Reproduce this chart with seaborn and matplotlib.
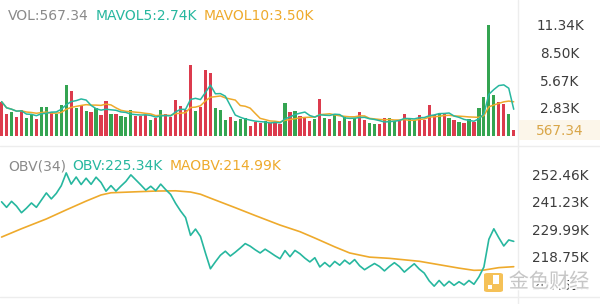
import matplotlib
matplotlib.use("Agg")
import matplotlib.pyplot as plt
import matplotlib.patheffects as pe
import pandas as pd
import seaborn as sns
from matplotlib.lines import Line2D
from matplotlib.patches import Rectangle, FancyBboxPatch, Circle
from matplotlib.transforms import blended_transform_factory, offset_copy

# ---- data -----------------------------------------------------------------
# traded volume per bar, in thousands
volume = [
    3.52, 2.26, 2.46, 1.95, 2.70, 1.85, 2.13, 1.78, 2.94, 2.94,
    2.43, 2.23, 3.15, 5.24, 4.59, 2.91, 3.08, 2.60, 2.50, 2.91,
    2.16, 3.56, 2.29, 2.26, 2.05, 1.92, 2.67, 2.05, 2.05, 2.16,
    1.61, 1.81, 2.67, 2.23, 1.98, 3.66, 3.11, 2.67, 7.29, 2.57,
    3.01, 6.78, 6.43, 2.84, 2.67, 1.67, 1.98, 1.57, 1.71, 1.81,
    1.06, 1.47, 1.30, 1.54, 1.30, 1.37, 1.23, 3.33, 2.50, 2.57,
    2.05, 1.81, 1.54, 1.71, 3.77, 1.81, 1.71, 2.16, 1.54, 2.05,
    1.57, 1.81, 2.50, 1.64, 1.30, 1.23, 1.20, 1.81, 1.81, 1.54,
    1.57, 2.26, 1.75, 1.64, 2.16, 1.64, 3.18, 2.16, 2.33, 2.23,
    1.88, 1.64, 1.47, 1.30, 1.70, 1.45, 2.90, 3.95, 11.34, 4.15,
    3.50, 3.25, 2.23, 0.56734,
]
# candle direction per bar: u = close up, d = close down
direction_code = (
    "ddudduuduu" "duuudududu" "dduduuuddd" "ududdddddu" "ddduuuduuu"
    "dddudddudu" "dddudududu" "dudduudduu" "dduuddddud" "udududuuuu"
    "ddud"
)
# on-balance volume per bar, in thousands
obv = [
    241.50, 239.24, 241.70, 239.75, 237.05, 238.90, 241.03, 239.25, 242.19, 245.13,
    242.70, 244.93, 248.08, 253.32, 248.73, 251.64, 248.56, 251.16, 248.66, 251.57,
    249.41, 245.85, 248.14, 245.88, 247.93, 249.85, 252.52, 250.47, 248.42, 246.26,
    247.87, 246.06, 248.73, 246.50, 244.52, 240.86, 237.75, 235.08, 227.79, 230.36,
    227.35, 220.57, 214.14, 216.98, 219.65, 221.32, 219.34, 220.91, 222.62, 224.43,
    223.37, 221.90, 220.60, 222.14, 220.84, 219.47, 218.24, 221.57, 219.07, 221.64,
    220.29, 218.48, 216.94, 218.65, 214.88, 216.69, 214.98, 217.14, 215.60, 217.65,
    216.08, 217.89, 215.39, 213.75, 215.05, 216.28, 215.08, 213.27, 215.08, 216.62,
    215.05, 212.79, 214.54, 216.18, 214.01, 212.37, 209.19, 207.03, 209.36, 207.13,
    209.01, 207.37, 208.84, 207.54, 209.35, 207.81, 210.82, 214.85, 226.19, 230.47,
    226.81, 223.45, 225.91, 225.34,
]
# 34-bar moving average of OBV, sampled at these bar indices
maobv_bar = [0, 4, 9, 13, 17, 20, 22, 27, 31, 35, 38, 40, 42, 47, 51, 56,
             60, 63, 67, 70, 74, 78, 84, 88, 92, 95, 97, 100, 103]
maobv_val = [227.1, 230.5, 234.5, 238.2, 241.8, 244.3, 245.2, 245.6, 245.9, 246.0,
             245.5, 244.6, 243.0, 239.1, 235.9, 232.0, 229.3, 226.7, 223.1, 220.6,
             218.9, 218.4, 217.2, 215.8, 214.4, 213.5, 213.6, 214.6, 214.99]

vol_ticks = [2.835, 5.67, 8.505, 11.34]
vol_tick_labels = ["2.83K", "5.67K", "8.50K", "11.34K"]
obv_ticks = [207.51, 218.75, 229.99, 241.23, 252.46]
obv_tick_labels = ["207.51K", "218.75K", "229.99K", "241.23K", "252.46K"]

# ---- style ----------------------------------------------------------------
RED = "#dc3b4d"
GREEN = "#34a451"
TEAL = "#27b79f"
ORANGE = "#eeaa2c"
GREY = "#8a8a8a"
TICK = "#3d3d3d"
GOLD = "#d9a648"
RULE = "#ededed"

sns.set_theme(style="white")
plt.rcParams["font.family"] = ["DejaVu Sans", "Noto Sans CJK SC"]

W, H = 600, 304
fig = plt.figure(figsize=(W / 100, H / 100), dpi=100)
fig.patch.set_facecolor("white")


def fx(px):
    return px / W


def fy(px):
    return 1 - px / H


PLOT_R = 518
ax_v = fig.add_axes([0, fy(136), fx(PLOT_R), (136 - 18) / H])
ax_o = fig.add_axes([0, fy(296), fx(PLOT_R), (296 - 150) / H])

df = pd.DataFrame({
    "bar": range(len(volume)),
    "volume": volume,
    "direction": ["up" if c == "u" else "down" for c in direction_code],
})
df["mavol5"] = df["volume"].rolling(5, min_periods=1).mean()
df["mavol10"] = df["volume"].rolling(10, min_periods=1).mean()
df["obv"] = obv
ma_df = pd.DataFrame({"bar": maobv_bar, "maobv": maobv_val})

# ---- volume panel ---------------------------------------------------------
sns.barplot(data=df, x="bar", y="volume", hue="direction",
            palette={"up": GREEN, "down": RED}, dodge=False, width=0.64,
            saturation=1, errorbar=None, legend=False, linewidth=0, ax=ax_v)
sns.lineplot(data=df, x="bar", y="mavol10", color=ORANGE, lw=1.1, ax=ax_v)
sns.lineplot(data=df, x="bar", y="mavol5", color=TEAL, lw=1.1, ax=ax_v)
ax_v.set_xlim(-0.32, 103.86)
ax_v.set_ylim(0, 12.09)

# ---- OBV panel ------------------------------------------------------------
sns.lineplot(data=ma_df, x="bar", y="maobv", color=ORANGE, lw=1.2, ax=ax_o)
sns.lineplot(data=df, x="bar", y="obv", color=TEAL, lw=1.2, ax=ax_o)
ax_o.set_xlim(-0.32, 103.86)
ax_o.set_ylim(203.01, 262.68)

for ax in (ax_v, ax_o):
    ax.set_axis_off()

# ---- panel rules ----------------------------------------------------------
for y in (146.5, 296.5):
    fig.add_artist(Line2D([0, 1], [fy(y), fy(y)], color=RULE, lw=1,
                          transform=fig.transFigure))
fig.add_artist(Line2D([fx(PLOT_R), fx(PLOT_R)], [0, 1], color=RULE, lw=1,
                      transform=fig.transFigure))


# ---- right-hand value labels ---------------------------------------------
def right_labels(ax, values, labels, color=TICK, size=9.8):
    tr = blended_transform_factory(fig.transFigure, ax.transData)
    tr = offset_copy(tr, x=0, y=-5, units="dots")
    for v, s in zip(values, labels):
        fig.text(fx(560), v, s, transform=tr, ha="center", va="baseline",
                 color=color, fontsize=size, zorder=5)


right_labels(ax_v, vol_ticks, vol_tick_labels)
right_labels(ax_o, obv_ticks, obv_tick_labels)


def fmt_vol(v):
    return f"{v * 1000:.2f}" if v < 1 else f"{v:.2f}K"


# latest volume, highlighted
last_vol = volume[-1]
tr_v = blended_transform_factory(fig.transFigure, ax_v.transData)
box_h = 20 / 9.76
fig.add_artist(Rectangle((fx(PLOT_R + 0.5), last_vol - box_h / 2), fx(W - PLOT_R),
                         box_h, transform=tr_v, facecolor="#fcf6ea",
                         edgecolor="none", zorder=2))
right_labels(ax_v, [last_vol], [fmt_vol(last_vol)], color=GOLD)

# ---- headers --------------------------------------------------------------
renderer = fig.canvas.get_renderer()


def header(y_base, parts, x0=8, gap=6.5, size=10):
    x = x0
    for s, c in parts:
        t = fig.text(fx(x), fy(y_base), s, color=c, fontsize=size,
                     ha="left", va="baseline")
        x += t.get_window_extent(renderer).width + gap


header(20, [(f"VOL:{fmt_vol(volume[-1])}", GREY),
            (f"MAVOL5:{fmt_vol(df['mavol5'].iloc[-1])}", TEAL),
            (f"MAVOL10:{fmt_vol(df['mavol10'].iloc[-1])}", ORANGE)])
header(170, [("OBV(34)", GREY),
             (f"OBV:{obv[-1]:.2f}K", TEAL),
             (f"MAOBV:{maobv_val[-1]:.2f}K", ORANGE)])

# ---- watermark ------------------------------------------------------------
logo = FancyBboxPatch((fx(484), fy(292)), fx(19), 19 / H,
                      boxstyle="round,pad=0,rounding_size=0.006",
                      transform=fig.transFigure, facecolor="#f4bb45",
                      edgecolor="none", alpha=0.9, zorder=6)
fig.add_artist(logo)
fig.add_artist(Rectangle((fx(493), fy(284)), fx(6), 9 / H, transform=fig.transFigure,
                         facecolor="white", edgecolor="none", zorder=7))
fig.add_artist(Rectangle((fx(487.5), fy(289)), fx(4), 4 / H, transform=fig.transFigure,
                         facecolor="white", edgecolor="none", zorder=7))
fig.text(fx(549), fy(282), "金色财经", family=["Noto Sans CJK SC"], fontsize=14.5,
         color="#c4c4c4", ha="center", va="center", alpha=0.95, zorder=8,
         path_effects=[pe.withStroke(linewidth=2.5, foreground="white")])

fig.savefig("out.png", dpi=100, facecolor="white")
